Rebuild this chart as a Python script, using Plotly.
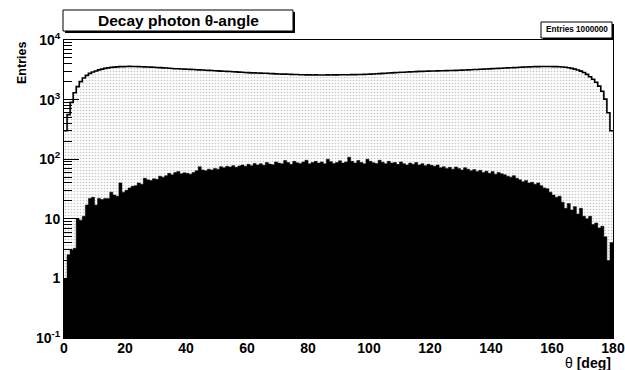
import plotly.graph_objects as go

# ---------------- data ----------------
bin_edges = list(range(0, 181))            # 1 degree bins, 0..180

all_photons = [
    300, 560, 900, 1300, 1650, 2000, 2300, 2550, 2750, 2900,
    3020, 3150, 3250, 3340, 3410, 3470, 3510, 3540, 3570, 3580,
    3590, 3610, 3590, 3585, 3570, 3565, 3540, 3525, 3500, 3485,
    3460, 3445, 3410, 3385, 3350, 3325, 3300, 3285, 3260, 3245,
    3230, 3210, 3195, 3170, 3155, 3130, 3115, 3090, 3075, 3050,
    3035, 3010, 2995, 2970, 2955, 2930, 2915, 2890, 2875, 2850,
    2835, 2810, 2805, 2790, 2785, 2770, 2760, 2740, 2725, 2700,
    2695, 2680, 2675, 2660, 2655, 2640, 2635, 2615, 2610, 2600,
    2598, 2590, 2595, 2585, 2590, 2590, 2595, 2590, 2598, 2600,
    2605, 2605, 2615, 2615, 2625, 2625, 2635, 2640, 2655, 2660,
    2680, 2690, 2715, 2730, 2755, 2770, 2795, 2810, 2835, 2850,
    2875, 2885, 2905, 2920, 2940, 2950, 2970, 2980, 2995, 3000,
    3015, 3020, 3035, 3040, 3055, 3060, 3075, 3080, 3095, 3100,
    3120, 3130, 3150, 3165, 3190, 3200, 3225, 3240, 3265, 3280,
    3305, 3320, 3345, 3360, 3385, 3400, 3425, 3440, 3465, 3480,
    3505, 3520, 3545, 3555, 3570, 3575, 3590, 3590, 3595, 3585,
    3580, 3570, 3550, 3520, 3480, 3420, 3340, 3250, 3140, 3000,
    2850, 2650, 2420, 2200, 1950, 1680, 1380, 1020, 600, 300,
]

selected_photons = [
    1, 2.5, 3, 3.2, 10, 9.5, 11, 17, 22, 23,
    17, 22, 21, 22, 22, 28, 25, 24, 40, 28,
    30, 33, 35, 36, 40, 38, 48, 45, 44, 47,
    46, 52, 50, 53, 58, 55, 60, 62, 57, 59,
    58, 56, 60, 64, 75, 66, 64, 68, 66, 70,
    68, 75, 72, 76, 74, 78, 73, 77, 80, 76,
    82, 78, 85, 80, 84, 79, 88, 83, 81, 90,
    86, 84, 95, 88, 82, 92, 87, 85, 90, 96,
    84, 88, 92, 86, 90, 84, 100, 91, 85, 88,
    94, 86, 90, 108, 92, 86, 95, 88, 84, 100,
    92, 87, 85, 96, 89, 84, 92, 86, 88, 82,
    90, 84, 80, 86, 82, 88, 80, 84, 78, 82,
    79, 76, 80, 72, 75, 70, 73, 68, 74, 70,
    66, 72, 68, 64, 67, 62, 65, 60, 63, 58,
    62, 56, 60, 57, 55, 52, 50, 53, 48, 45,
    42, 44, 40, 41, 38, 40, 36, 33, 32, 28,
    25, 23, 24, 19, 15, 18, 14, 16, 12, 15,
    11, 10, 11, 8, 8.5, 7, 7.5, 5, 2, 4,
]

x_tick_vals = [0, 20, 40, 60, 80, 100, 120, 140, 160, 180]
y_tick_vals = [0.1, 1, 10, 100, 1000, 10000]
y_tick_text = ["10<sup>-1</sup>", "1", "10", "10<sup>2</sup>", "10<sup>3</sup>", "10<sup>4</sup>"]
y_minor_vals = [m * d for d in [0.1, 1, 10, 100, 1000] for m in range(2, 10)]

title_text = "Decay photon \u03b8-angle"
stats_text = "Entries 1000000"

# ---------------- figure ----------------
fig = go.Figure()

# full histogram: dotted fill + step outline
fig.add_trace(go.Scatter(
    x=bin_edges, y=all_photons + [all_photons[-1]],
    mode="lines", line=dict(color="black", width=1.6, shape="hv"),
    fill="tozeroy", fillcolor="white",
    fillpattern=dict(shape=".", fgcolor="#8c8c8c", bgcolor="#fdfdfd",
                     size=3, solidity=0.22),
    showlegend=False, hoverinfo="skip",
))

# selected histogram: solid black
fig.add_trace(go.Scatter(
    x=bin_edges, y=selected_photons + [selected_photons[-1]],
    mode="lines", line=dict(color="black", width=0.5, shape="hv"),
    fill="tozeroy", fillcolor="black",
    showlegend=False, hoverinfo="skip",
))

L, R, T, B = 64, 12, 40, 32
W, H = 625, 370
pw, ph = W - L - R, H - T - B

def px(xp):
    return (xp - L) / pw

def py(yp):
    return (H - B - yp) / ph

font_b = dict(family="Liberation Sans", color="black", weight="bold")

fig.update_layout(
    width=W, height=H,
    margin=dict(l=L, r=R, t=T, b=B, pad=0),
    paper_bgcolor="white", plot_bgcolor="white",
    xaxis=dict(
        range=[0, 180], tickmode="array", tickvals=x_tick_vals,
        ticks="inside", ticklen=8, tickcolor="black",
        showline=True, mirror=True, linecolor="black", linewidth=1,
        showgrid=False, zeroline=False, automargin=False,
        ticklabelstandoff=-3,
        tickfont=dict(size=14, **font_b),
    ),
    yaxis=dict(
        type="log", range=[-1, 4], tickmode="array",
        tickvals=y_tick_vals, ticktext=y_tick_text,
        ticks="inside", ticklen=15, tickcolor="black", tickwidth=1,
        minor=dict(ticks="inside", ticklen=8, tickcolor="black",
                   tickmode="array", tickvals=y_minor_vals, showgrid=False),
        showline=True, mirror=True, linecolor="black", linewidth=1,
        showgrid=False, zeroline=False, automargin=False,
        tickfont=dict(size=14, **font_b),
    ),
    shapes=[
        # title box + shadow
        dict(type="rect", xref="paper", yref="paper",
             x0=px(63), x1=px(293), y0=py(31), y1=py(10),
             line=dict(color="black", width=1), fillcolor="white"),
        dict(type="line", xref="paper", yref="paper",
             x0=px(294), x1=px(294), y0=py(32), y1=py(12),
             line=dict(color="black", width=2)),
        dict(type="line", xref="paper", yref="paper",
             x0=px(65), x1=px(295), y0=py(32), y1=py(32),
             line=dict(color="black", width=2)),
        # stats box + shadow
        dict(type="rect", xref="paper", yref="paper",
             x0=px(541), x1=px(612), y0=py(38), y1=py(22),
             line=dict(color="black", width=1), fillcolor="white"),
        dict(type="line", xref="paper", yref="paper",
             x0=px(613), x1=px(613), y0=py(39), y1=py(24),
             line=dict(color="black", width=2)),
        dict(type="line", xref="paper", yref="paper",
             x0=px(543), x1=px(614), y0=py(39), y1=py(39),
             line=dict(color="black", width=2)),
    ],
    annotations=[
        dict(text=title_text, xref="paper", yref="paper",
             x=px(178), y=py(20.5), xanchor="center", yanchor="middle",
             showarrow=False, font=dict(size=15.5, **font_b)),
        dict(text=stats_text, xref="paper", yref="paper",
             x=px(576.5), y=py(30), xanchor="center", yanchor="middle",
             showarrow=False, font=dict(size=8.2, **font_b)),
        dict(text="\u03b8 <b>[deg]</b>", xref="paper", yref="paper",
             x=1.0, y=py(363), xanchor="right", yanchor="middle",
             showarrow=False,
             font=dict(family="Liberation Sans", size=14, color="black")),
        dict(text="Entries", xref="paper", yref="paper",
             x=px(22), y=1.0, xanchor="center", yanchor="top",
             textangle=-90, showarrow=False,
             font=dict(size=12.5, **font_b)),
    ],
)

fig.write_html("out.html")
